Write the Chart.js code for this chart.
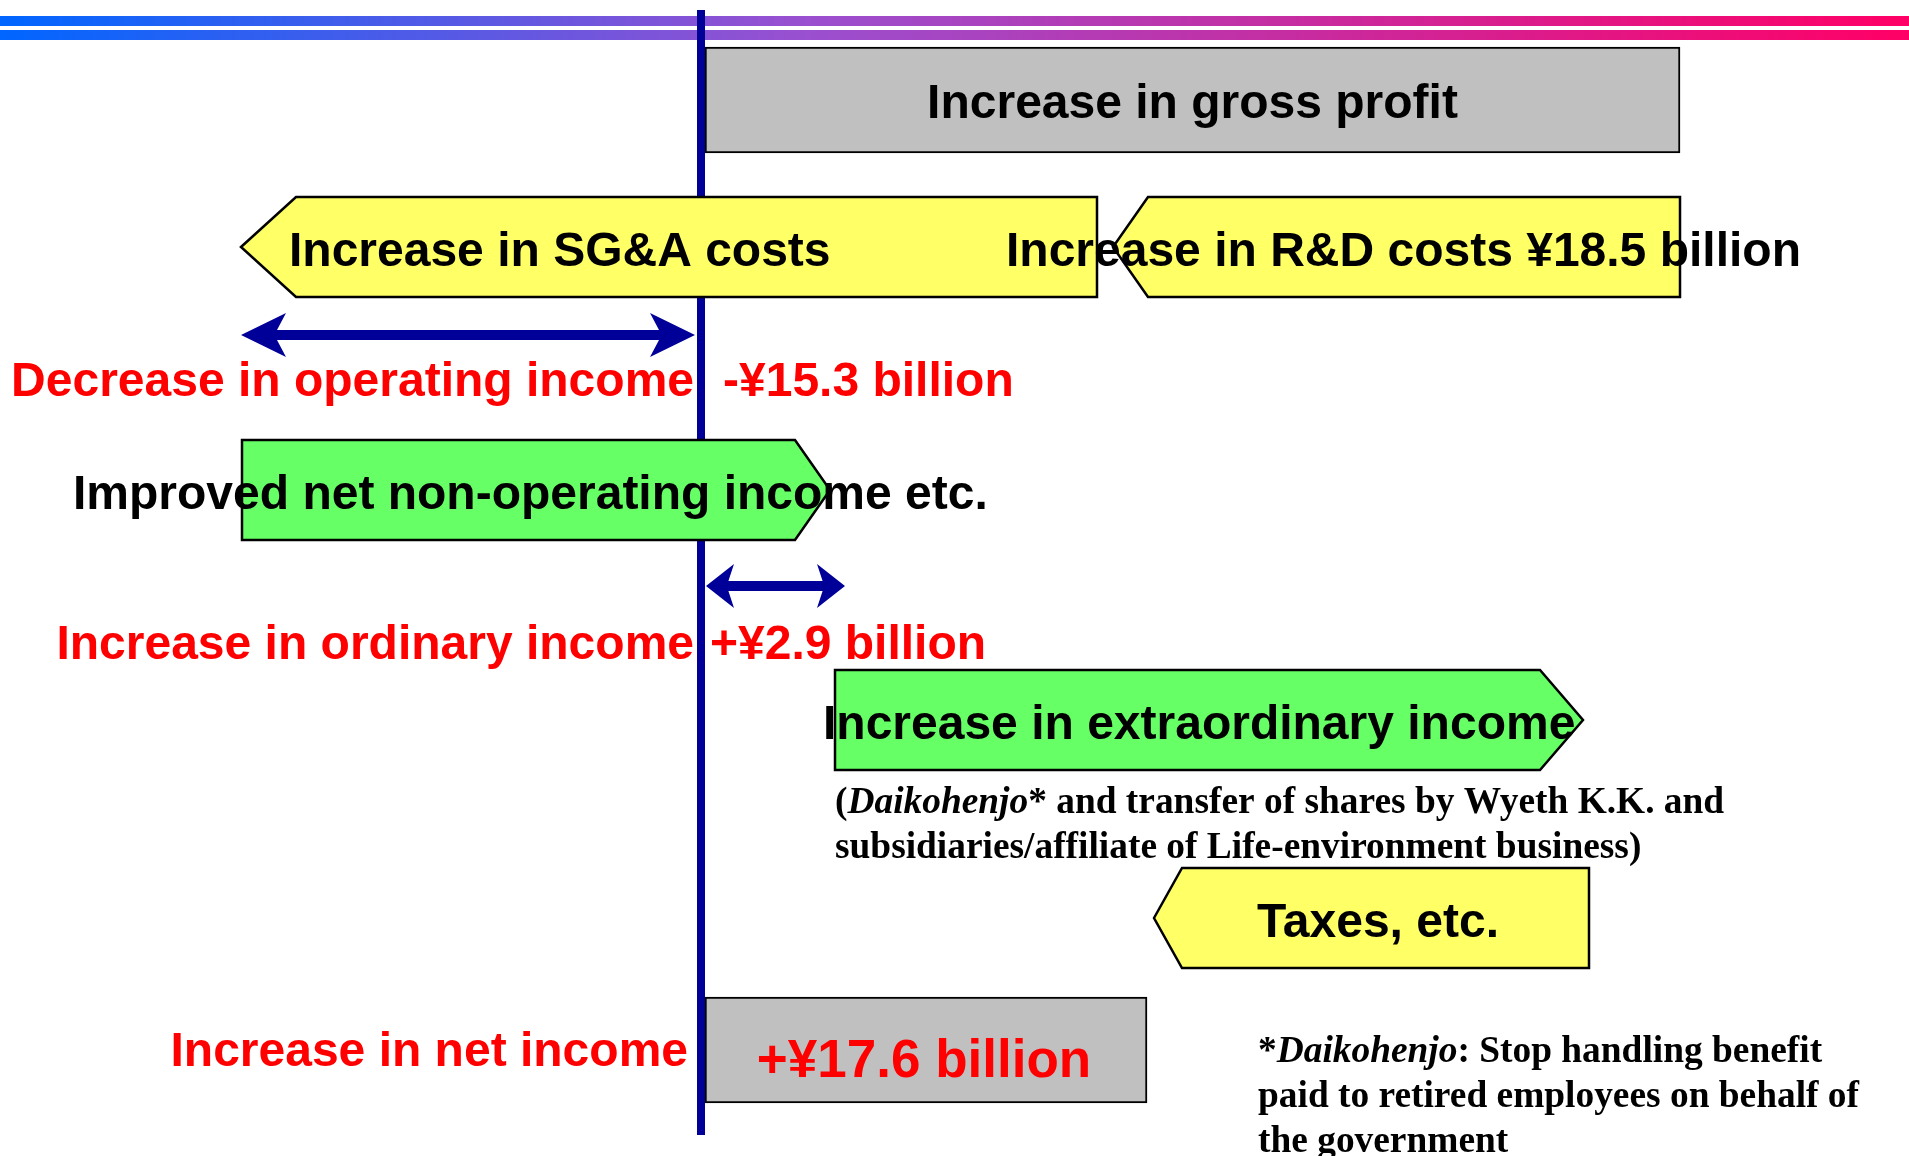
<!DOCTYPE html>
<html>
<head>
<meta charset="utf-8">
<script src="https://cdn.jsdelivr.net/npm/chart.js@4.4.1/dist/chart.umd.min.js"></script>
<style>
html, body { margin: 0; padding: 0; background: #fff; overflow: hidden; }
#wrap { width: 1909px; height: 1156px; position: relative; }
</style>
</head>
<body>
<div id="wrap"><canvas id="mycanvas"></canvas></div>
<script>
// x = position against the zero line, y = row position (top down)
var boxNames = ['Increase in gross profit', '+¥17.6 billion'];
var boxRow = [100, 1050];
var boxFrom = [4, 4];
var boxTo = [979, 446];

var arrowNames = ['Increase in SG&A costs', 'Increase in R&D costs ¥18.5 billion', 'Improved net non-operating income etc.', 'Increase in extraordinary income', 'Taxes, etc.'];
var arrowRow = [247, 247, 490, 720, 918];
var arrowFrom = [-460, 412, -459, 134, 453];
var arrowTo = [396, 979, 129, 882, 888];

var changeNames = ['Decrease in operating income', 'Increase in ordinary income', 'Increase in net income'];
var changeValues = ['-¥15.3 billion', '+¥2.9 billion', '+¥17.6 billion'];
var changeRow = [335, 586];
var changeFrom = [-460, 5];
var changeTo = [-6, 144];

var zeroLine = [10, 1135];

var noteLines = [
    [['(', false], ['Daikohenjo', true], ['* and transfer of shares by Wyeth K.K. and', false]],
    [['subsidiaries/affiliate of Life-environment business)', false]]
];
var footLines = [
    [['*', false], ['Daikohenjo', true], [': Stop handling benefit', false]],
    [['paid to retired employees on behalf of', false]],
    [['the government', false]]
];

// styles
var arrowFill = ['#ffff66', '#ffff66', '#66ff66', '#66ff66', '#ffff66'];
var arrowPoint = ['left', 'left', 'right', 'right', 'left'];
var arrowTip = [55, 35, 35, 43, 28];
var arrowLabelX = [-412, 305, -628, 122, 677];
var arrowLabelAlign = ['left', 'left', 'left', 'left', 'center'];
var headLen = [45, 28];

var SANS = '"Liberation Sans", Arial, sans-serif';
var SERIF = '"Liberation Serif", "Times New Roman", serif';

function put(ctx, text, x, y, size, color, align) {
    ctx.save();
    ctx.font = 'bold ' + size + 'px ' + SANS;
    ctx.fillStyle = color;
    ctx.textAlign = align;
    ctx.textBaseline = 'middle';
    ctx.fillText(text, x, y + 4);
    ctx.restore();
}

function putRich(ctx, parts, x, y) {
    ctx.save();
    ctx.fillStyle = '#000';
    ctx.textAlign = 'left';
    ctx.textBaseline = 'middle';
    for (var i = 0; i < parts.length; i++) {
        ctx.font = (parts[i][1] ? 'italic ' : '') + 'bold 37.4px ' + SERIF;
        ctx.fillText(parts[i][0], x, y + 3);
        x += ctx.measureText(parts[i][0]).width;
    }
    ctx.restore();
}

function doubleArrow(ctx, l, r, y, h) {
    var half = 22, shaft = 5, notch = h * 0.2;
    ctx.beginPath();
    ctx.moveTo(l, y);
    ctx.lineTo(l + h, y - half);
    ctx.lineTo(l + h - notch, y - shaft);
    ctx.lineTo(r - h + notch, y - shaft);
    ctx.lineTo(r - h, y - half);
    ctx.lineTo(r, y);
    ctx.lineTo(r - h, y + half);
    ctx.lineTo(r - h + notch, y + shaft);
    ctx.lineTo(l + h - notch, y + shaft);
    ctx.lineTo(l + h, y + half);
    ctx.closePath();
    ctx.fillStyle = '#000099';
    ctx.fill();
}

function drawArrows(chart) {
    var ctx = chart.ctx;
    var meta = chart.getDatasetMeta(2);
    ctx.save();
    meta.data.forEach(function(bar, i) {
        var l = Math.min(bar.x, bar.base), r = Math.max(bar.x, bar.base);
        var t = bar.y - bar.height / 2, b = bar.y + bar.height / 2;
        var d = arrowTip[i];
        ctx.beginPath();
        if (arrowPoint[i] == 'left') {
            ctx.moveTo(l, bar.y);
            ctx.lineTo(l + d, t);
            ctx.lineTo(r, t);
            ctx.lineTo(r, b);
            ctx.lineTo(l + d, b);
        } else {
            ctx.moveTo(l, t);
            ctx.lineTo(r - d, t);
            ctx.lineTo(r, bar.y);
            ctx.lineTo(r - d, b);
            ctx.lineTo(l, b);
        }
        ctx.closePath();
        ctx.fillStyle = arrowFill[i];
        ctx.fill();
        ctx.lineWidth = 2.5;
        ctx.strokeStyle = '#000';
        ctx.stroke();
    });
    ctx.restore();
}

var diagram = {
    id: 'diagram',
    beforeDraw: function(chart) {
        var ctx = chart.ctx;
        var w = chart.width;
        var g = ctx.createLinearGradient(0, 0, w, 0);
        g.addColorStop(0, '#0066ff');
        g.addColorStop(0.42, '#9950d0');
        g.addColorStop(1, '#ff0066');
        ctx.save();
        ctx.fillStyle = g;
        ctx.fillRect(0, 16, w, 10);
        ctx.fillRect(0, 30, w, 10);
        ctx.restore();
    },
    // the zero line goes behind the arrow shapes
    afterDatasetDraw: function(chart, args) {
        if (args.index === 0) drawArrows(chart);
    },
    afterDatasetsDraw: function(chart) {
        var ctx = chart.ctx;
        var xs = chart.scales.x, ys = chart.scales.y;
        var X = function(v) { return xs.getPixelForValue(v); };
        var Y = function(v) { return ys.getPixelForValue(v); };

        // double arrows for the income changes
        chart.getDatasetMeta(3).data.forEach(function(bar, i) {
            doubleArrow(ctx, Math.min(bar.x, bar.base), Math.max(bar.x, bar.base), bar.y, headLen[i]);
        });

        // box labels
        var boxes = chart.getDatasetMeta(1).data;
        put(ctx, boxNames[0], (boxes[0].x + boxes[0].base) / 2, boxes[0].y + 1, 48, '#000', 'center');
        put(ctx, boxNames[1], (boxes[1].x + boxes[1].base) / 2 - 2, boxes[1].y + 8, 53, '#ff0000', 'center');

        // arrow labels
        chart.getDatasetMeta(2).data.forEach(function(bar, i) {
            put(ctx, arrowNames[i], X(arrowLabelX[i]), bar.y + 2, 48, '#000', arrowLabelAlign[i]);
        });

        // change labels
        put(ctx, changeNames[0], X(-7), Y(379), 48, '#ff0000', 'right');
        put(ctx, changeValues[0], X(22), Y(379), 48, '#ff0000', 'left');
        put(ctx, changeNames[1], X(-7), Y(642), 48, '#ff0000', 'right');
        put(ctx, changeValues[1], X(9), Y(642), 48, '#ff0000', 'left');
        put(ctx, changeNames[2], X(-13), Y(1049), 48, '#ff0000', 'right');

        // notes
        noteLines.forEach(function(line, i) {
            putRich(ctx, line, X(134), Y(800 + i * 45));
        });
        footLines.forEach(function(line, i) {
            putRich(ctx, line, X(557), Y(1049 + i * 45));
        });
    }
};

var ctx = document.getElementById('mycanvas');

var diagramChart = new Chart(ctx, {
    type: 'bar',
    data: {
        datasets: [
            {
                type: 'line',
                label: 'zero',
                data: zeroLine.map(function(y) { return {x: 0, y: y}; }),
                borderColor: '#000099',
                borderWidth: 8,
                pointRadius: 0,
                borderCapStyle: 'butt',
                order: 5
            },
            {
                label: 'boxes',
                data: boxRow.map(function(y, i) { return {y: y, x: [boxFrom[i], boxTo[i]]}; }),
                backgroundColor: '#c0c0c0',
                borderColor: '#000',
                borderWidth: 2,
                borderSkipped: false,
                barThickness: 106,
                grouped: false,
                order: 1
            },
            {
                label: 'arrows',
                data: arrowRow.map(function(y, i) { return {y: y, x: [arrowFrom[i], arrowTo[i]]}; }),
                backgroundColor: 'rgba(0,0,0,0)',
                borderWidth: 0,
                barThickness: 100,
                grouped: false,
                order: 2
            },
            {
                label: 'changes',
                data: changeRow.map(function(y, i) { return {y: y, x: [changeFrom[i], changeTo[i]]}; }),
                backgroundColor: 'rgba(0,0,0,0)',
                borderWidth: 0,
                barThickness: 10,
                grouped: false,
                order: 3
            }
        ]
    },
    options: {
        indexAxis: 'y',
        responsive: true,
        maintainAspectRatio: false,
        animation: false,
        layout: { padding: 0 },
        scales: {
            x: { type: 'linear', min: -701, max: 1208, offset: false, display: false },
            y: { type: 'linear', min: 0, max: 1156, reverse: true, offset: false, display: false }
        },
        plugins: {
            legend: { display: false },
            tooltip: { enabled: false }
        }
    },
    plugins: [diagram]
});
</script>
</body>
</html>
